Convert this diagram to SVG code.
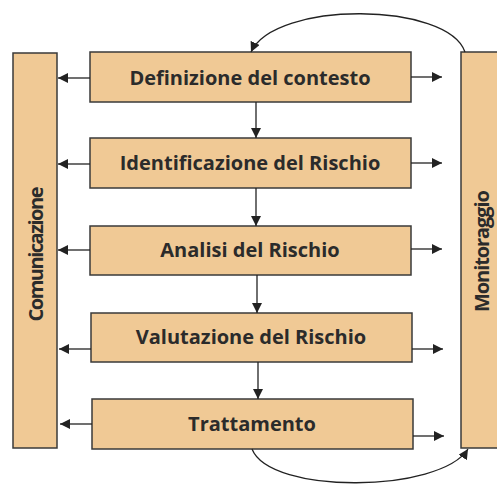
<svg xmlns="http://www.w3.org/2000/svg" width="497" height="485" viewBox="0 0 497 485">
<style>
.box{fill:#f0c995;stroke:#3a3a3a;stroke-width:1.5}
.t{font-family:"Open Sans","DejaVu Sans",sans-serif;font-weight:bold;font-size:20px;fill:#2b2b2b;text-anchor:middle}
.c{fill:none;stroke:#222;stroke-width:1.3}
</style>
<defs>
<marker id="ah" viewBox="0 0 10 10" refX="10" refY="5" markerWidth="10" markerHeight="10" markerUnits="userSpaceOnUse" orient="auto">
<path d="M0,0 L10,5 L0,10 z" fill="#222"/>
</marker>
</defs>
<rect width="497" height="485" fill="#fff"/>
<g id="comunicazione">
<rect class="box" x="13" y="53" width="44" height="395"/>
<text class="t" transform="translate(43,254) rotate(-90)" textLength="135" lengthAdjust="spacing">Comunicazione</text>
</g>
<g id="monitoraggio">
<rect class="box" x="461" y="52" width="45" height="396"/>
<text class="t" transform="translate(489,251) rotate(-90)" textLength="122" lengthAdjust="spacing">Monitoraggio</text>
</g>
<g id="definizione">
<rect class="box" x="90" y="52" width="321" height="50"/>
<text class="t" x="250" y="85">Definizione del contesto</text>
</g>
<g id="identificazione">
<rect class="box" x="90" y="138" width="321" height="50"/>
<text class="t" x="250" y="170">Identificazione del Rischio</text>
</g>
<g id="analisi">
<rect class="box" x="90" y="226" width="321" height="49"/>
<text class="t" x="250" y="257">Analisi del Rischio</text>
</g>
<g id="valutazione">
<rect class="box" x="91" y="313" width="321" height="49"/>
<text class="t" x="251" y="344">Valutazione del Rischio</text>
</g>
<g id="trattamento">
<rect class="box" x="92" y="399" width="321" height="50"/>
<text class="t" x="252" y="431">Trattamento</text>
</g>
<g id="connectors">
<path class="c" d="M90,78 H58" marker-end="url(#ah)"/>
<path class="c" d="M90,164 H58" marker-end="url(#ah)"/>
<path class="c" d="M90,250 H58" marker-end="url(#ah)"/>
<path class="c" d="M91,349 H59" marker-end="url(#ah)"/>
<path class="c" d="M92,424 H60" marker-end="url(#ah)"/>
<path class="c" d="M411,77 H442" marker-end="url(#ah)"/>
<path class="c" d="M411,163 H442" marker-end="url(#ah)"/>
<path class="c" d="M411,249 H442" marker-end="url(#ah)"/>
<path class="c" d="M412,349 H443" marker-end="url(#ah)"/>
<path class="c" d="M413,436 H444" marker-end="url(#ah)"/>
<path class="c" d="M256,102 V138" marker-end="url(#ah)"/>
<path class="c" d="M256,188 V226" marker-end="url(#ah)"/>
<path class="c" d="M257,275 V313" marker-end="url(#ah)"/>
<path class="c" d="M258,362 V399" marker-end="url(#ah)"/>
<path class="c" d="M465,52 C448,2 275,0 251,52" marker-end="url(#ah)"/>
<path class="c" d="M252,449 C270,495 440,493 468,449" marker-end="url(#ah)"/>
</g>
</svg>
